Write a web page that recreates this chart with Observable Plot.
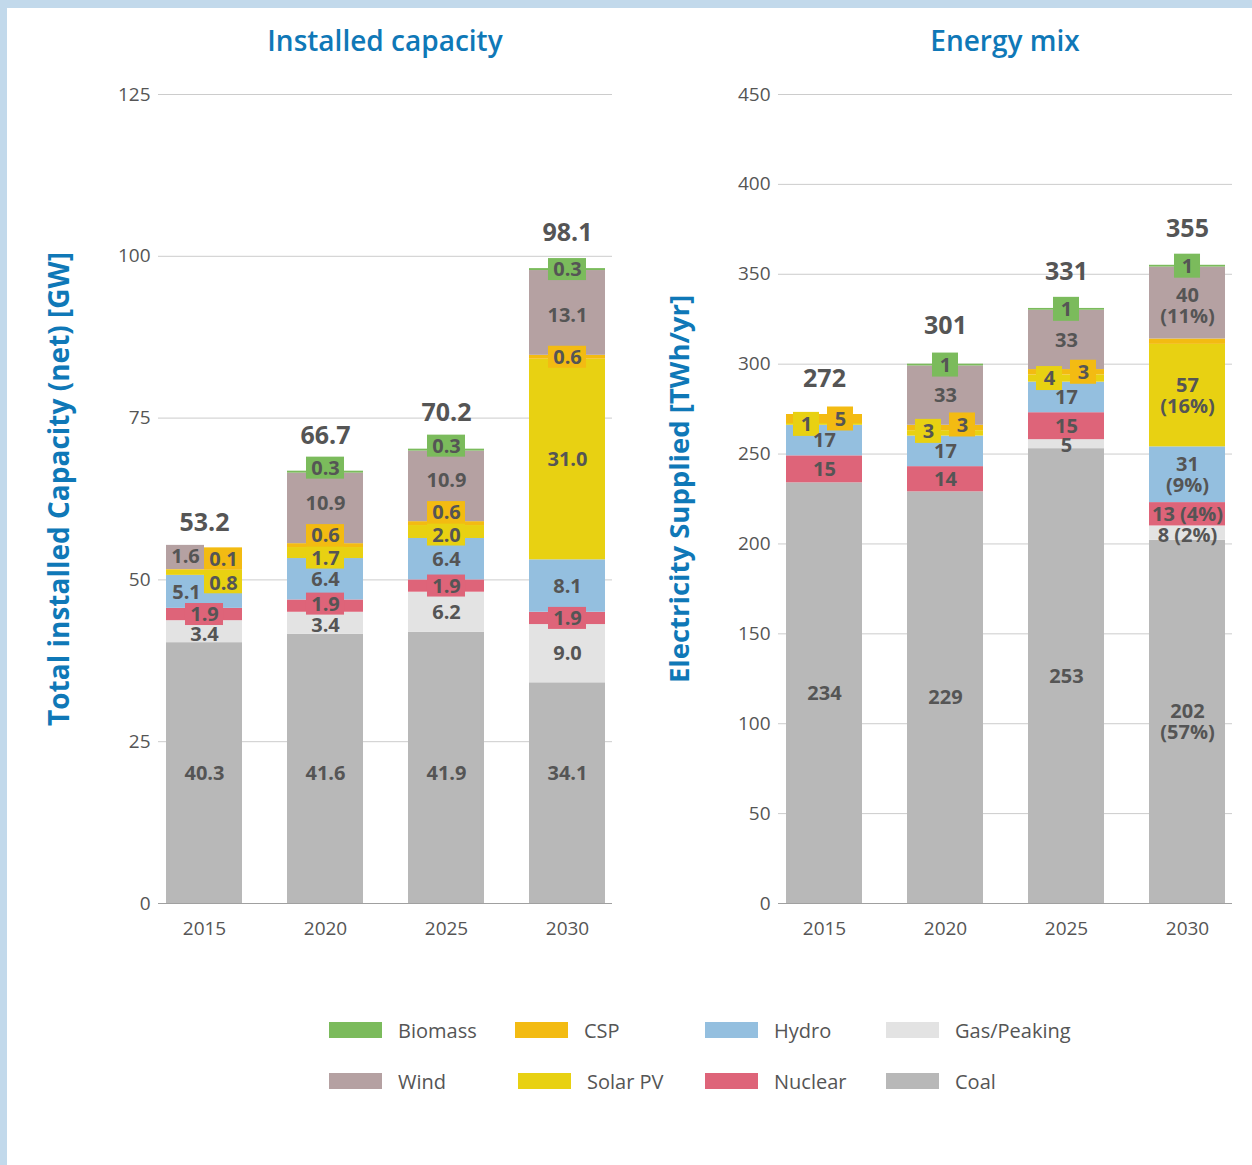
<!DOCTYPE html>
<html><head><meta charset="utf-8">
<script src="https://cdn.jsdelivr.net/npm/d3@7"></script>
<script src="https://cdn.jsdelivr.net/npm/@observablehq/plot@0.6"></script>
<style>
html,body{margin:0;padding:0;background:#fff;}
#page{position:relative;width:1252px;height:1165px;background:#fff;overflow:hidden;font-family:'Open Sans',sans-serif;}
.edge{position:absolute;background:#c2d9eb;}
.title{position:absolute;top:21px;width:460px;text-align:center;font-size:28px;font-weight:600;color:#0f78b7;}
.ytitle{position:absolute;width:600px;text-align:center;font-weight:700;color:#0f78b7;transform:translate(-50%,-50%) rotate(-90deg);white-space:nowrap;}
.plot{position:absolute;top:0;}
.leg{position:absolute;display:flex;align-items:center;font-size:20px;color:#555;}
.leg span.sw{display:inline-block;width:53px;height:16px;margin-right:16px;}
</style></head>
<body>
<div id="page">
  <div class="edge" style="left:0;top:0;width:7px;height:1165px"></div>
  <div class="edge" style="left:0;top:0;width:1252px;height:8px"></div>
  <div class="title" style="left:155px">Installed capacity</div>
  <div class="title" style="left:775px">Energy mix</div>
  <div class="ytitle" style="left:58px;top:489px;font-size:28px">Total installed Capacity (net) [GW]</div>
  <div class="ytitle" style="left:678px;top:489px;font-size:27.5px">Electricity Supplied [TWh/yr]</div>
  <div id="left" class="plot" style="left:0"></div>
  <div id="right" class="plot" style="left:620px"></div>
  <div id="legend"></div>
</div>
<script>
// ---------- data ----------
const years = ["2015", "2020", "2025", "2030"];
const series = ["Coal", "Gas/Peaking", "Nuclear", "Hydro", "Solar PV", "CSP", "Wind", "Biomass"];
const colors = ["#b8b8b8", "#e3e3e3", "#de6479", "#94bfdf", "#e8d112", "#f3bb12", "#b5a1a2", "#7bbb5c"];
const legendRow1 = ["Biomass", "CSP", "Hydro", "Gas/Peaking"];
const legendRow2 = ["Wind", "Solar PV", "Nuclear", "Coal"];

// Installed capacity [GW]
const capCoal    = [40.3, 41.6, 41.9, 34.1];
const capGas     = [3.4, 3.4, 6.2, 9.0];
const capNuclear = [1.9, 1.9, 1.9, 1.9];
const capHydro   = [5.1, 6.4, 6.4, 8.1];
const capSolar   = [0.8, 1.7, 2.0, 31.0];
const capCSP     = [0.1, 0.6, 0.6, 0.6];
const capWind    = [1.6, 10.9, 10.9, 13.1];
const capBiomass = [0, 0.3, 0.3, 0.3];
const capTotals  = [53.2, 66.7, 70.2, 98.1];
const capTicks   = [0, 25, 50, 75, 100, 125];

// Energy mix [TWh/yr]
const enCoal    = [234, 229, 253, 202];
const enGas     = [0, 0, 5, 8];
const enNuclear = [15, 14, 15, 13];
const enHydro   = [17, 17, 17, 31];
const enSolar   = [1, 3, 4, 57];
const enCSP     = [5, 3, 3, 3];
const enWind    = [0, 33, 33, 40];
const enBiomass = [0, 1, 1, 1];
const enTotals  = [272, 301, 331, 355];
const enTicks   = [0, 50, 100, 150, 200, 250, 300, 350, 400, 450];
const enShare2030 = ["57%", "2%", "4%", "9%", "16%", null, "11%", null];
const enUnlabeled = ["2030|CSP"];

// ---------- label placement (style, pixels) ----------
const nudges = {
  "cap|2015|Gas/Peaking": [0, 3], "cap|2015|Hydro": [-18, 0], "cap|2015|Solar PV": [19, 10], "cap|2015|CSP": [19, -11], "cap|2015|Wind": [-19, -8],
  "cap|2020|Coal": [0, 4], "cap|2020|Gas/Peaking": [0, 2], "cap|2020|Nuclear": [0, -2], "cap|2020|Solar PV": [0, 5], "cap|2020|CSP": [0, -10], "cap|2020|Wind": [0, -5], "cap|2020|Biomass": [0, -4],
  "cap|2025|Coal": [0, 5], "cap|2025|Solar PV": [0, 3], "cap|2025|CSP": [0, -11], "cap|2025|Wind": [0, -6], "cap|2025|Biomass": [0, -4],
  "cap|2030|Coal": [0, -20], "cap|2030|Wind": [0, 2],
  "en|2015|Solar PV": [-18, 0], "en|2015|CSP": [16, 0],
  "en|2020|Solar PV": [-17, -2], "en|2020|CSP": [17, -3],
  "en|2025|Solar PV": [-17, 0], "en|2025|CSP": [17, 0], "en|2025|Gas/Peaking": [0, 1],
  "en|2030|Wind": [0, 3], "en|2030|Gas/Peaking": [0, 2]
};

function buildRows(cols) {
  const rows = [];
  years.forEach((yr, i) => {
    let acc = 0;
    series.forEach((s, k) => {
      const v = cols[k][i];
      rows.push({year: yr, series: s, si: k, yi: i, value: v, y1: acc, y2: acc + v, mid: acc + v / 2});
      acc += v;
    });
  });
  return rows;
}

const capRows = buildRows([capCoal, capGas, capNuclear, capHydro, capSolar, capCSP, capWind, capBiomass]);
const enRows = buildRows([enCoal, enGas, enNuclear, enHydro, enSolar, enCSP, enWind, enBiomass]);

capRows.forEach(d => { d.label = d.value > 0 ? d.value.toFixed(1) : null; d.boxed = d.value < 3 && d.series !== "Gas/Peaking"; });
enRows.forEach(d => {
  if (d.value <= 0 || enUnlabeled.includes(d.year + "|" + d.series)) { d.label = null; }
  else {
    const share = d.year === "2030" ? enShare2030[d.si] : null;
    d.label = share ? (d.value >= 20 ? `${d.value}\n(${share})` : `${d.value} (${share})`) : String(d.value);
  }
  d.boxed = d.value < 10 && d.series !== "Gas/Peaking";
});

// ---------- layout ----------
const H = 960, MT = 94, MB = 57, ML = 158;
const PI = 0.372, PO = 0.062;

function makePanel(key, rows, totals, ticks, yMax, fmtTotal, width, MR, boxH) {
  const rangeW = width - ML - MR;
  const bw = rangeW / (years.length - PI + 2 * PO) * (1 - PI);
  const marks = [
    Plot.ruleY(ticks.filter(t => t > 0), {stroke: "#cccccc", strokeWidth: 1}),
    Plot.barY(rows.filter(d => d.value > 0), {x: "year", y1: "y1", y2: "y2", fill: "series"}),
    Plot.ruleY([0], {stroke: "#a0a0a0", strokeWidth: 1.2})
  ];
  const labeled = rows.filter(d => d.label);
  for (const d of labeled) {
    if (!d.boxed) continue;
    const [dx, dy] = nudges[`${key}|${d.year}|${d.series}`] || [0, 0];
    const w = d.label.length <= 1 ? 26 : 38;
    marks.push(Plot.barY([d], {
      x: "year", y1: "mid", y2: "mid", fill: colors[d.si],
      insetLeft: (bw - w) / 2, insetRight: (bw - w) / 2, insetTop: -boxH / 2, insetBottom: -boxH / 2,
      dx, dy
    }));
  }
  for (const d of labeled) {
    const [dx, dy] = nudges[`${key}|${d.year}|${d.series}`] || [0, 0];
    marks.push(Plot.text([d], {
      x: "year", y: "mid", text: "label", dx, dy,
      fill: "#555", fontSize: 20, fontWeight: "bold", lineHeight: 1.05
    }));
  }
  marks.push(Plot.text(years.map((y, i) => ({year: y, total: totals[i]})), {
    x: "year", y: "total", text: d => fmtTotal(d.total), dy: -36,
    fill: "#555", fontSize: 25, fontWeight: "bold"
  }));
  return Plot.plot({
    width, height: H, marginTop: MT, marginBottom: MB, marginLeft: ML, marginRight: MR,
    style: {fontFamily: "'Open Sans', sans-serif", fontSize: "19px", color: "#555", background: "transparent", overflow: "visible"},
    x: {domain: years, paddingInner: PI, paddingOuter: PO, tickSize: 0, tickPadding: 18, label: null},
    y: {domain: [0, yMax], ticks: ticks, tickSize: 0, tickPadding: 8, label: null},
    color: {domain: series, range: colors},
    marks
  });
}

document.getElementById("left").append(makePanel("cap", capRows, capTotals, capTicks, 125, v => v.toFixed(1), 630, 18, 22));
document.getElementById("right").append(makePanel("en", enRows, enTotals, enTicks, 450, v => String(v), 632, 20, 24));

// ---------- legend ----------
const legend = document.getElementById("legend");
const colX = [329, 515, 705, 886];
[[legendRow1, 1030], [legendRow2, 1081]].forEach(([row, cy], r) => {
  row.forEach((name, c) => {
    const el = document.createElement("div");
    el.className = "leg";
    el.style.left = (colX[c] + (r === 1 && c === 1 ? 3 : 0)) + "px";
    el.style.top = (cy - 13) + "px";
    el.style.height = "26px";
    const sw = document.createElement("span");
    sw.className = "sw";
    sw.style.background = colors[series.indexOf(name)];
    el.append(sw, document.createTextNode(name));
    legend.append(el);
  });
});
</script>
</body></html>
